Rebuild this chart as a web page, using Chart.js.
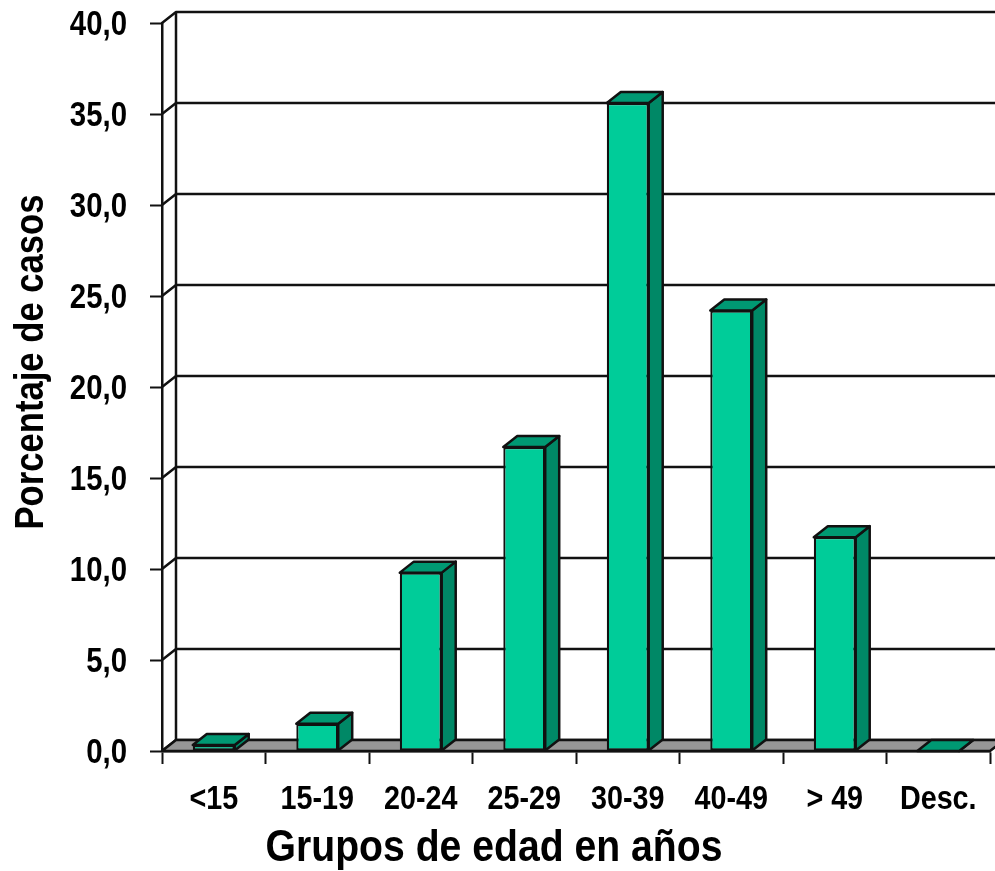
<!DOCTYPE html>
<html>
<head>
<meta charset="utf-8">
<style>
  html, body { margin: 0; padding: 0; background: #fff; }
  canvas { display: block; }
</style>
<script src="https://cdn.jsdelivr.net/npm/chart.js@4/dist/chart.umd.min.js"></script>
</head>
<body>
<canvas id="edadChart" width="995" height="871"></canvas>
<script>
// Data
const grupos = ["<15", "15-19", "20-24", "25-29", "30-39", "40-49", "> 49", "Desc."];
const porcentajes = [0.33, 1.5, 9.8, 16.7, 35.6, 24.2, 11.75, 0];
const tituloX = "Grupos de edad en años";
const tituloY = "Porcentaje de casos";

const fontName = "'Liberation Sans', sans-serif";
const depthX = 14;
const depthY = 11;
const ink = "#111";

function poly(ctx, pts, fill) {
    ctx.beginPath();
    pts.forEach((p, i) => i ? ctx.lineTo(p[0], p[1]) : ctx.moveTo(p[0], p[1]));
    ctx.closePath();
    if (fill) {
        ctx.fillStyle = fill;
        ctx.fill();
    }
    ctx.stroke();
}

// No narrow font is installed, so the labels are squeezed horizontally by hand
function narrowText(ctx, text, x, y, size, squeeze, align, angle) {
    ctx.save();
    ctx.translate(x, y);
    ctx.rotate(angle || 0);
    ctx.scale(squeeze, 1);
    ctx.font = "bold " + size + "px " + fontName;
    ctx.fillStyle = "#000";
    ctx.textAlign = align;
    ctx.textBaseline = "alphabetic";
    ctx.fillText(text, 0, 0);
    ctx.restore();
}

// Fake 3D: floor, back wall and the top/side faces of the bars
const depth3d = {
    id: "depth3d",
    beforeDatasetsDraw(chart) {
        const ctx = chart.ctx;
        const area = chart.chartArea;
        const y = chart.scales.y;
        ctx.save();
        ctx.strokeStyle = ink;
        ctx.lineWidth = 2.5;
        ctx.lineJoin = "round";

        y.ticks.forEach(t => {
            const py = y.getPixelForValue(t.value);
            ctx.beginPath();
            ctx.moveTo(area.left, py);
            ctx.lineTo(area.left + depthX, py - depthY);
            ctx.lineTo(995, py - depthY);
            ctx.stroke();
        });
        poly(ctx, [
            [area.left, area.bottom],
            [area.left + depthX, area.bottom - depthY],
            [area.right + depthX, area.bottom - depthY],
            [area.right, area.bottom]
        ], "#969696");
        ctx.beginPath();
        ctx.moveTo(area.left + depthX, area.top - depthY);
        ctx.lineTo(area.left + depthX, area.bottom - depthY);
        ctx.stroke();

        chart.getDatasetMeta(0).data.forEach(bar => {
            const l = bar.x - bar.width / 2;
            const r = bar.x + bar.width / 2;
            poly(ctx, [[r, bar.y], [r + depthX, bar.y - depthY], [r + depthX, bar.base - depthY], [r, bar.base]], "#008866");
            poly(ctx, [[l, bar.y], [l + depthX, bar.y - depthY], [r + depthX, bar.y - depthY], [r, bar.y]], "#009973");
        });
        ctx.restore();
    },
    afterDraw(chart) {
        const ctx = chart.ctx;
        const { x, y } = chart.scales;
        y.ticks.forEach(t => {
            narrowText(ctx, t.label, 127, y.getPixelForValue(t.value) + 12, 35, 0.84, "right");
        });
        x.ticks.forEach((t, i) => {
            narrowText(ctx, t.label, x.getPixelForTick(i), 809, 33, 0.87, "center");
        });
        narrowText(ctx, tituloX, 494, 861, 45, 0.87, "center");
        narrowText(ctx, tituloY, 43, 362, 41, 0.845, "center", -Math.PI / 2);
    }
};

new Chart(document.getElementById("edadChart"), {
    type: "bar",
    data: {
        labels: grupos,
        datasets: [{
            data: porcentajes,
            backgroundColor: "#00CC99",
            borderColor: ink,
            borderWidth: 2.2,
            borderSkipped: false,
            categoryPercentage: 0.81,
            barPercentage: 0.5
        }]
    },
    plugins: [depth3d],
    options: {
        responsive: false,
        animation: false,
        clip: false,
        layout: { padding: { top: 23, right: 5, left: 0, bottom: 0 } },
        plugins: { legend: { display: false }, tooltip: { enabled: false } },
        scales: {
            x: {
                afterFit(scale) { scale.height = 120; },
                grid: { drawOnChartArea: false, tickLength: 13, tickColor: ink, tickWidth: 2 },
                border: { color: ink, width: 2.5 },
                ticks: { display: false, autoSkip: false, maxRotation: 0 }
            },
            y: {
                min: 0,
                max: 40,
                afterFit(scale) { scale.width = 162; },
                grid: { drawOnChartArea: false, tickLength: 12, tickColor: ink, tickWidth: 2 },
                border: { color: ink, width: 2.5 },
                ticks: {
                    display: false,
                    stepSize: 5,
                    callback: v => v.toFixed(1).replace(".", ",")
                }
            }
        }
    }
});
</script>
</body>
</html>
